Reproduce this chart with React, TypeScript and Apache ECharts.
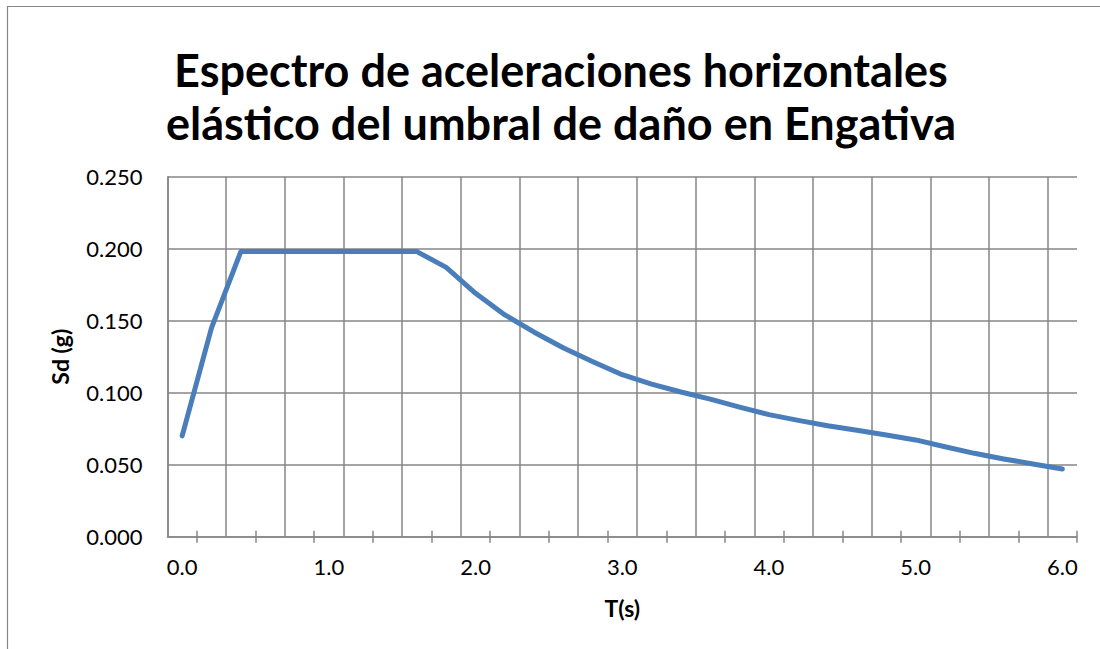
import React, { useEffect, useRef } from "react";
import * as echarts from "echarts";

const titleLines = [
  "Espectro de aceleraciones horizontales",
  "elástico del umbral de daño en Engativa",
];
const xAxisName = "T(s)";
const yAxisName = "Sd (g)";

// Period T (s), categories
const periods = [
  "0.0", "0.2", "0.4", "0.6", "0.8", "1.0", "1.2", "1.4", "1.6", "1.8",
  "2.0", "2.2", "2.4", "2.6", "2.8", "3.0", "3.2", "3.4", "3.6", "3.8",
  "4.0", "4.2", "4.4", "4.6", "4.8", "5.0", "5.2", "5.4", "5.6", "5.8", "6.0",
];
// Sd (g)
const sdValues = [
  0.07, 0.145, 0.198, 0.198, 0.198, 0.198, 0.198, 0.198, 0.198, 0.187,
  0.169, 0.154, 0.142, 0.131, 0.1215, 0.1125, 0.106, 0.1005, 0.0955, 0.09,
  0.0848, 0.0808, 0.0771, 0.0739, 0.0706, 0.0672, 0.0625, 0.0579, 0.054, 0.0505, 0.047,
];
const yMin = 0;
const yMax = 0.25;
const yStep = 0.05;

const FONT = "Lato";
const GRID_COLOR = "#868686";

export default function App() {
  const ref = useRef<HTMLDivElement>(null);
  useEffect(() => {
    if (!ref.current) return;
    const chart = echarts.init(ref.current, null, { renderer: "svg" });
    chart.setOption({
      animation: false,
      backgroundColor: "#ffffff",
      textStyle: { fontFamily: FONT },
      title: {
        text: titleLines.join("\n"),
        left: 556,
        top: 38,
        textAlign: "center",
        textStyle: {
          fontFamily: FONT,
          fontWeight: "bold",
          fontSize: 45,
          lineHeight: 53,
          color: "#000000",
        },
      },
      graphic: [
        {
          type: "rect",
          shape: { x: 7.5, y: 6.5, width: 1300, height: 800 },
          style: { fill: "none", stroke: GRID_COLOR, lineWidth: 1.2 },
          silent: true,
          z: -10,
        },
      ],
      grid: { left: 167.5, right: 23, top: 176.7, bottom: 112.3, containLabel: false },
      xAxis: [
        {
          type: "category",
          data: periods,
          boundaryGap: true,
          name: xAxisName,
          nameLocation: "middle",
          nameGap: 60,
          nameTextStyle: { fontFamily: FONT, fontWeight: "bold", fontSize: 23, color: "#000" },
          axisLine: { show: true, lineStyle: { color: GRID_COLOR, width: 1.5 } },
          axisTick: {
            show: true,
            inside: false,
            length: 6,
            interval: (i: number) => i % 2 === 1,
            lineStyle: { color: GRID_COLOR, width: 1.5 },
          },
          axisLabel: {
            interval: 4,
            margin: 19,
            fontFamily: FONT,
            fontSize: 22,
            color: "#000",
          },
          splitLine: {
            show: true,
            interval: (i: number) => i % 2 === 0,
            showMaxLine: false,
            lineStyle: { color: GRID_COLOR, width: 1.5 },
          },
        },
        {
          type: "category",
          data: periods,
          boundaryGap: true,
          position: "bottom",
          offset: 0,
          axisLine: { show: false },
          axisTick: {
            show: true,
            inside: true,
            length: 6,
            interval: (i: number) => i % 2 === 1,
            lineStyle: { color: GRID_COLOR, width: 1.5 },
          },
          axisLabel: { show: false },
          splitLine: { show: false },
        },
      ],
      yAxis: {
        type: "value",
        min: yMin,
        max: yMax,
        interval: yStep,
        name: yAxisName,
        nameLocation: "middle",
        nameGap: 96,
        nameTextStyle: { fontFamily: FONT, fontWeight: "bold", fontSize: 23, color: "#000" },
        axisLine: { show: true, lineStyle: { color: GRID_COLOR, width: 1.5 } },
        axisTick: { show: false },
        axisLabel: {
          margin: 25,
          fontFamily: FONT,
          fontSize: 22,
          color: "#000",
          formatter: (v: number) => v.toFixed(3),
        },
        splitLine: { show: true, lineStyle: { color: GRID_COLOR, width: 1.5 } },
      },
      series: [
        {
          type: "line",
          data: sdValues,
          xAxisIndex: 0,
          symbol: "none",
          lineStyle: { color: "#4A7EBB", width: 5, cap: "round", join: "round" },
          itemStyle: { color: "#4A7EBB" },
        },
      ],
    });
    return () => chart.dispose();
  }, []);
  return (
    <div
      ref={ref}
      style={{ position: "absolute", left: 0, top: 0, width: 1100, height: 649 }}
    />
  );
}
